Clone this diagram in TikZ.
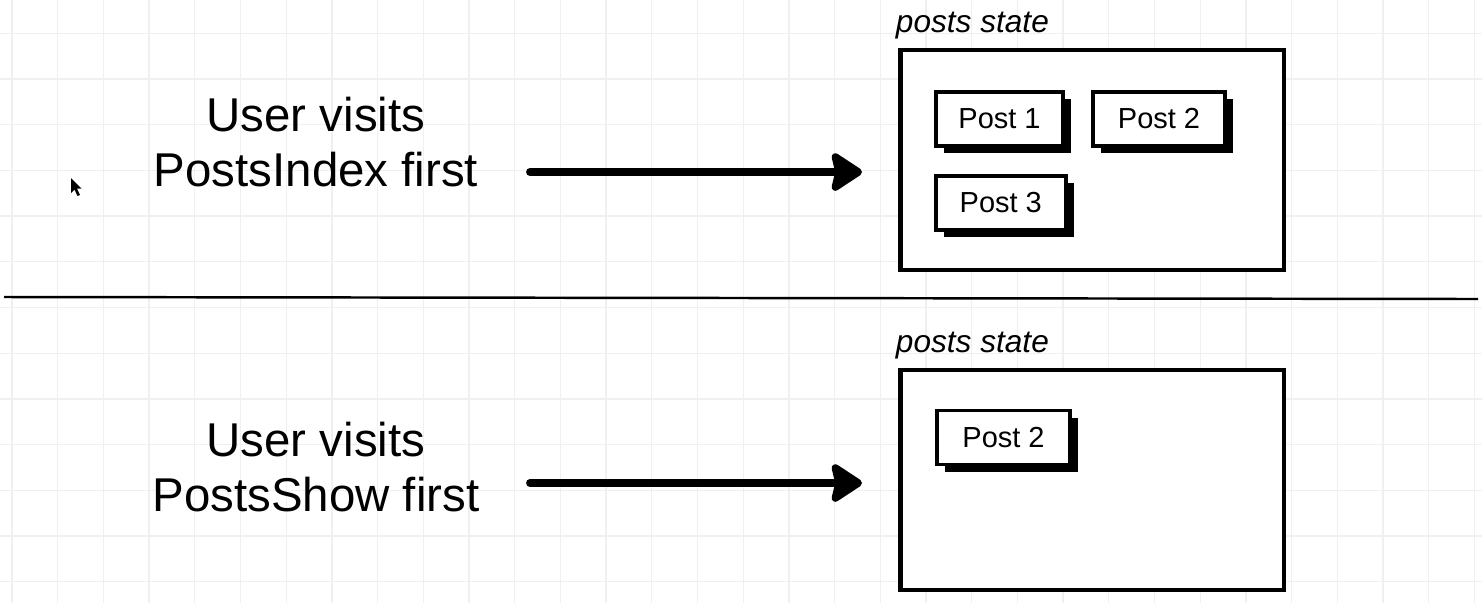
\documentclass[tikz,border=0pt]{standalone}
\usepackage{fontspec}
\setmainfont{Liberation Sans}
\usetikzlibrary{arrows.meta,positioning,shadows}

\begin{document}
\begin{tikzpicture}[x=0.02cm,y=-0.02cm,
        gridline/.style={draw=black!6,line width=0.7pt},
        visit/.style={align=center,font=\fontsize{27}{31.3}\selectfont},
        flow/.style={line width=4.5pt,line cap=round,
            -{Stealth[length=0.7cm,width=0.9cm,inset=0.1cm,round]}},
        state box/.style={draw,line width=2.8pt,fill=white,inner sep=0pt,
            minimum width=7.68cm,minimum height=4.4cm},
        state label/.style={font=\fontsize{18}{20}\itshape,inner sep=0pt},
        post/.style={draw,line width=2.2pt,fill=white,minimum width=2.55cm,
            minimum height=1.08cm,font=\fontsize{16.5}{18}\selectfont,
            drop shadow={opacity=1,fill=black,shadow xshift=0.16cm,shadow yshift=-0.14cm}}]
        \useasboundingbox[fill=white] (0,0) rectangle (1482,603);
        % background grid
        \foreach \gx in {12,57.7,...,1482}
            \draw[gridline] (\gx,0) -- (\gx,603);
        \foreach \gy in {33.3,79,...,603}
            \draw[gridline] (0,\gy) -- (1482,\gy);
        % mouse pointer
        \fill[black] (71,178) -- (71,193) -- (74.5,189.5) -- (77.5,196) -- (80,195)
            -- (77,188.5) -- (81.5,188.5) -- cycle;
        % separator
        \draw[line width=1.4pt] (4,297) -- (1478,299);

        % top: PostsIndex first
        \node[visit] (visitA) at (316,142) {User visits\\PostsIndex first};
        \node[state box] (stateA) at (1092,160) {};
        \node[state label, above right=0.16cm and -0.04cm of stateA.north west] (labelA) {posts state};
        \node[post] (p1) at (999.5,119) {Post 1};
        \node[post, minimum width=2.64cm] (p2) at (1159,119) {Post 2};
        \node[post, minimum width=2.6cm] (p3) [below=0.52cm of p1.south west, anchor=north west] {Post 3};
        \coordinate (fromA) at (530,172);
        \coordinate (toA) at (862,172);
        \draw[flow] (fromA) -- (toA);

        % bottom: PostsShow first
        \node[visit] (visitB) at (316,467) {User visits\\PostsShow first};
        \node[state box] (stateB) at (1092,480) {};
        \node[state label, above right=0.16cm and -0.04cm of stateB.north west] (labelB) {posts state};
        \node[post, minimum width=2.66cm] (p4) at (1003.5,437.5) {Post 2};
        \coordinate (fromB) at (530,483);
        \coordinate (toB) at (862,483);
        \draw[flow] (fromB) -- (toB);
\end{tikzpicture}
\end{document}
